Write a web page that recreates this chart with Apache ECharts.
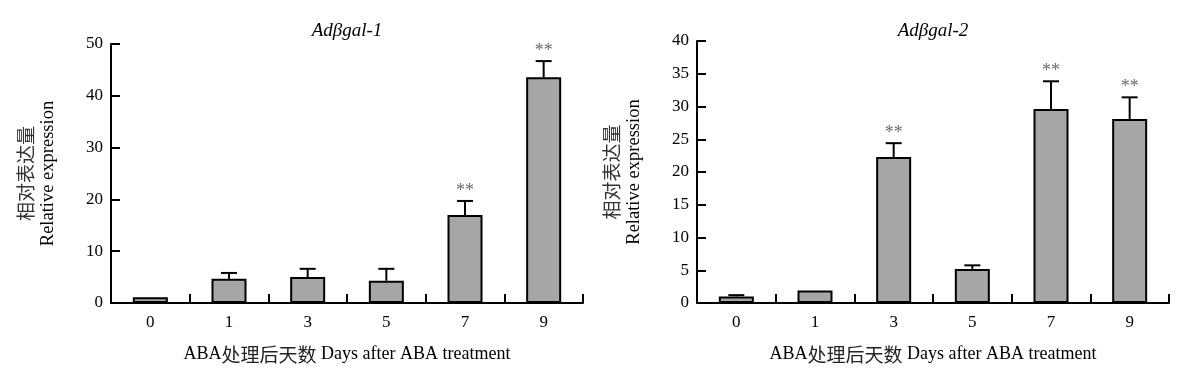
<!DOCTYPE html>
<html>
<head>
<meta charset="utf-8">
<script src="https://cdn.jsdelivr.net/npm/echarts@6/dist/echarts.min.js"></script>
<style>
html,body{margin:0;padding:0;background:#fff;}
#c{width:1179px;height:380px;}
</style>
</head>
<body>
<div id="c"></div>
<script>
const categories = ['0', '1', '3', '5', '7', '9'];
const gal1Mean  = [1.1, 4.7, 5.0, 4.3, 17.0, 43.6];
const gal1Upper = [1.1, 5.8, 6.6, 6.6, 19.7, 46.7];
const gal1Sig   = ['', '', '', '', '**', '**'];
const gal2Mean  = [1.0, 1.9, 22.3, 5.2, 29.6, 28.1];
const gal2Upper = [1.2, 1.9, 24.4, 5.75, 33.85, 31.4];
const gal2Sig   = ['', '', '**', '', '**', '**'];
const titles = ['Adβgal-1', 'Adβgal-2'];
const xNameCn = '处理后天数';
const xNameA = 'ABA';
const xNameB = ' Days after ABA treatment';
const yNameCn = '相对表达量';
const yNameEn = 'Relative expression';

const FONT = "'Liberation Serif', 'Times New Roman', 'Noto Sans CJK SC', serif";
const CJK = "'Noto Sans CJK SC', sans-serif";

function errorSeries(idx, mean, upper, sig) {
  return {
    type: 'custom',
    xAxisIndex: idx, yAxisIndex: idx,
    z: 5,
    data: mean.map((m, i) => [i, m, upper[i]]),
    encode: { x: 0, y: 2 },
    renderItem: function (params, api) {
      const i = api.value(0), m = api.value(1), u = api.value(2);
      const b = api.coord([i, m]);
      const t = api.coord([i, u]);
      const children = [];
      const ls = { stroke: '#000', lineWidth: 2 };
      if (u > m) {
        children.push({ type: 'line', shape: { x1: b[0], y1: b[1], x2: t[0], y2: t[1] }, style: ls });
        children.push({ type: 'line', shape: { x1: t[0] - 8, y1: t[1], x2: t[0] + 8, y2: t[1] }, style: ls });
      }
      const s = sig[params.dataIndex];
      if (s) {
        children.push({
          type: 'text',
          style: {
            text: s, x: t[0], y: t[1] - 1,
            align: 'center', verticalAlign: 'bottom',
            fill: '#6a6a6a', font: "18px 'Liberation Serif', serif"
          }
        });
      }
      return { type: 'group', children: children };
    }
  };
}

function xAxis(idx) {
  return {
    type: 'category', gridIndex: idx, data: categories,
    axisLine: { show: true, lineStyle: { color: '#000', width: 2 } },
    axisTick: { show: true, inside: true, length: 9, interval: 0, alignWithLabel: false, lineStyle: { color: '#000', width: 2 } },
    axisLabel: { color: '#000', fontSize: 17, fontFamily: FONT, margin: 11, interval: 0 },
    name: '{en|' + xNameA + '}{cn|' + xNameCn + '}{en|' + xNameB + '}',
    nameLocation: 'middle', nameGap: 42,
    nameTextStyle: {
      color: '#000', fontSize: 18, fontFamily: FONT,
      rich: {
        en: { fontSize: 18, fontFamily: FONT, color: '#000' },
        cn: { fontSize: 19, fontFamily: CJK, color: '#222' }
      }
    }
  };
}
function yAxis(idx, max, interval) {
  return {
    type: 'value', gridIndex: idx, min: 0, max: max, interval: interval,
    splitLine: { show: false },
    axisLine: { show: true, lineStyle: { color: '#000', width: 2 } },
    axisTick: { show: true, inside: true, length: 9, lineStyle: { color: '#000', width: 2 } },
    axisLabel: { color: '#000', fontSize: 17, fontFamily: FONT, margin: 8 },
    name: '{cn|' + yNameCn + '}\n{en|' + yNameEn + '}',
    nameLocation: 'middle', nameGap: 51, nameRotate: 90,
    nameTextStyle: {
      color: '#222', fontSize: 18, fontFamily: FONT,
      rich: {
        cn: { fontSize: 19, fontFamily: CJK, color: '#333', lineHeight: 23 },
        en: { fontSize: 18.5, fontFamily: FONT, color: '#000', lineHeight: 23 }
      }
    }
  };
}
function barSeries(idx, mean) {
  return {
    type: 'bar', xAxisIndex: idx, yAxisIndex: idx, data: mean, barWidth: 35,
    itemStyle: { color: '#a6a6a6', borderColor: '#000', borderWidth: 2 },
    silent: true
  };
}

const titleStyle = { fontSize: 19, fontStyle: 'italic', fontWeight: 'normal', color: '#000', fontFamily: FONT };
const chart = echarts.init(document.getElementById('c'), null, { renderer: 'canvas' });
chart.setOption({
  animation: false,
  backgroundColor: '#fff',
  title: [
    { text: titles[0], left: 347, top: 21, padding: 0, textAlign: 'center', textStyle: titleStyle },
    { text: titles[1], left: 933, top: 21, padding: 0, textAlign: 'center', textStyle: titleStyle }
  ],
  grid: [
    { left: 111, right: 596, top: 44, bottom: 77 },
    { left: 697, right: 10, top: 41, bottom: 77 }
  ],
  xAxis: [xAxis(0), xAxis(1)],
  yAxis: [yAxis(0, 50, 10), yAxis(1, 40, 5)],
  series: [
    barSeries(0, gal1Mean),
    errorSeries(0, gal1Mean, gal1Upper, gal1Sig),
    barSeries(1, gal2Mean),
    errorSeries(1, gal2Mean, gal2Upper, gal2Sig)
  ]
});
</script>
</body>
</html>
